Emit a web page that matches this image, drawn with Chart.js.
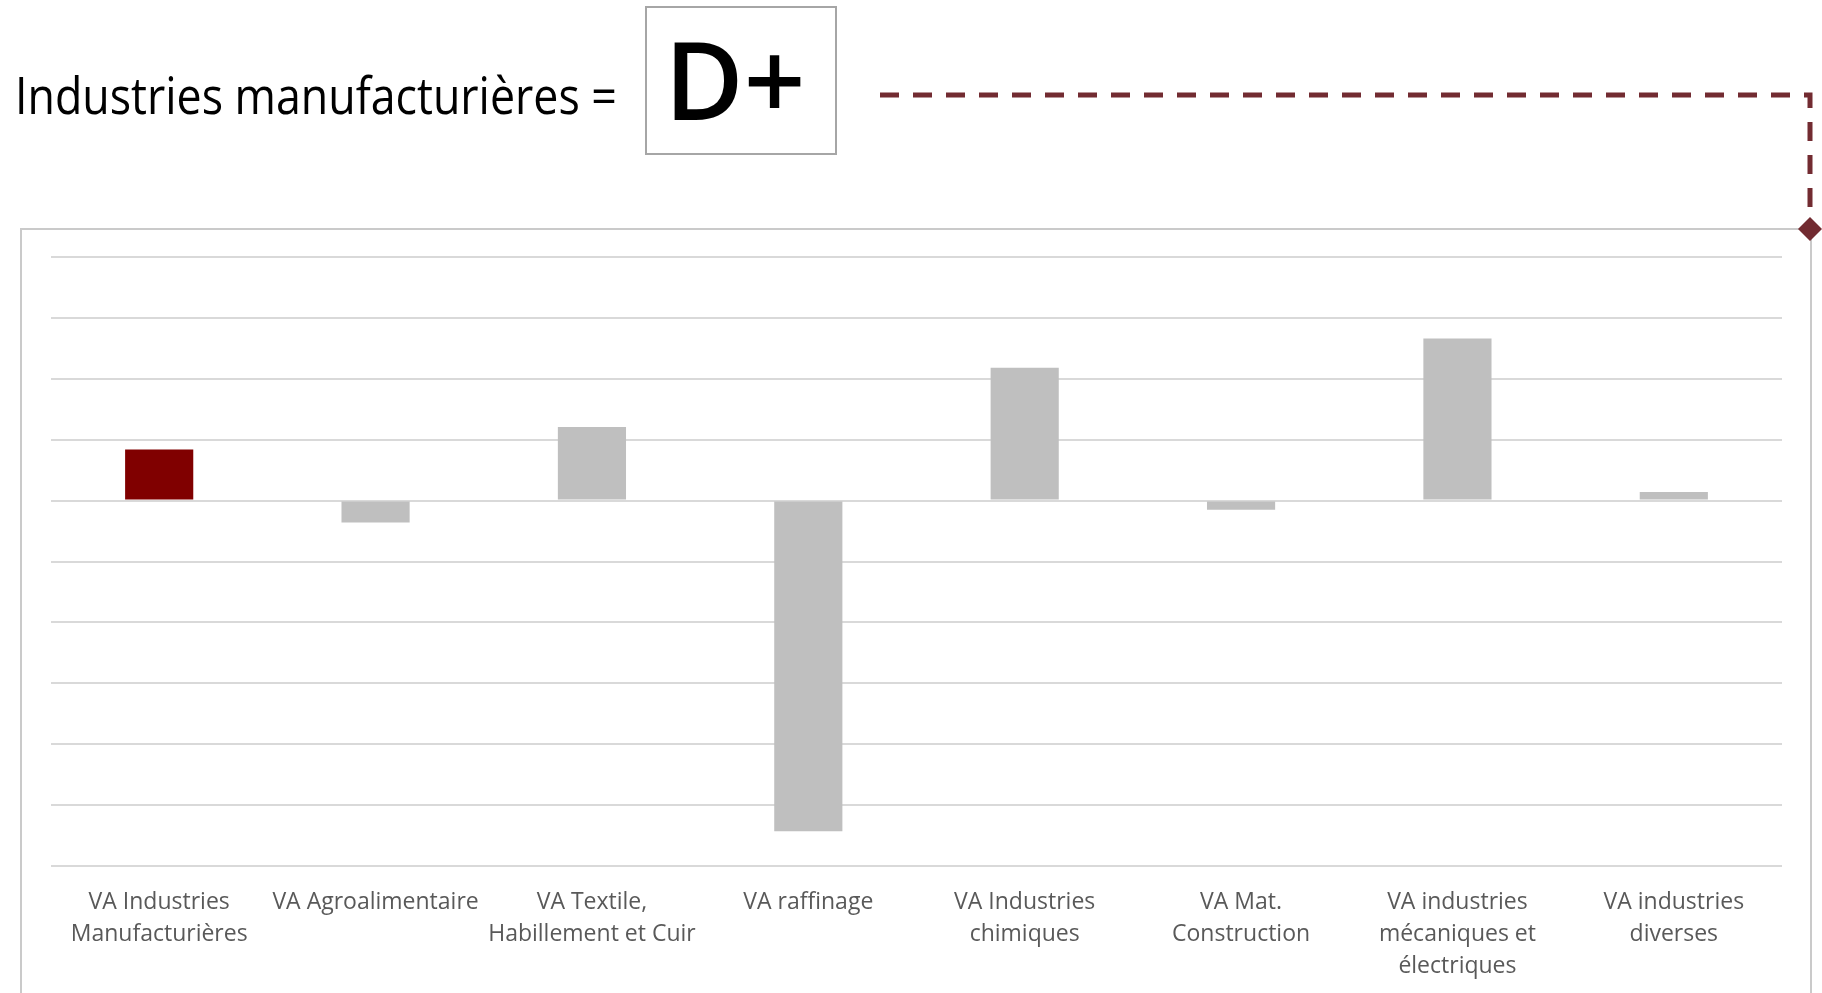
<!DOCTYPE html>
<html>
<head>
<meta charset="utf-8">
<script src="https://cdn.jsdelivr.net/npm/chart.js@4"></script>
<style>
  body { margin: 0; width: 1822px; height: 993px; overflow: hidden; background: #fff; position: relative; }
  #title { position: absolute; left: 15px; top: 68px; font: 52px/52px "Open Sans", sans-serif; color: #000; white-space: nowrap; transform: scaleX(0.86); transform-origin: 0 0; }
  #grade { position: absolute; left: 645px; top: 6px; width: 188px; height: 145px; border: 2px solid #a6a6a6; }
  #grade span { position: absolute; left: -12px; right: 0; top: 17px; text-align: center; font: 600 108px/108px "Open Sans", sans-serif; color: #000; }
  #frame { position: absolute; left: 20px; top: 228px; width: 1788px; height: 900px; border: 2px solid #cacaca; }
  #link { position: absolute; left: 0; top: 0; }
  #chart { position: absolute; left: 0; top: 0; }
</style>
</head>
<body>
<div id="title">Industries manufacturières =</div>
<div id="grade"><span>D+</span></div>
<div id="frame"></div>
<canvas id="chart" width="1822" height="993"></canvas>
<svg id="link" width="1822" height="993">
  <polyline points="880,95 1810,95 1810,222" fill="none" stroke="#722b31" stroke-width="5" stroke-dasharray="19 14"/>
  <polygon points="1810,217 1822,229 1810,241 1798,229" fill="#722b31"/>
</svg>
<script>
// secteurs (axe des x)
const categories = [
    ["VA Industries", "Manufacturières"],
    ["VA Agroalimentaire"],
    ["VA Textile,", "Habillement et Cuir"],
    ["VA raffinage"],
    ["VA Industries", "chimiques"],
    ["VA Mat.", "Construction"],
    ["VA industries", "mécaniques et", "électriques"],
    ["VA industries", "diverses"]
];

// contributions
const values = [0.84, -0.36, 1.21, -5.43, 2.18, -0.15, 2.66, 0.14];

const barColors = ["#800000", "#bfbfbf", "#bfbfbf", "#bfbfbf", "#bfbfbf", "#bfbfbf", "#bfbfbf", "#bfbfbf"];

const yMin = -6;
const yMax = 4;

const ctx = document.getElementById("chart").getContext("2d");

new Chart(ctx, {
    type: "bar",
    data: {
        labels: categories,
        datasets: [{
            data: values,
            backgroundColor: barColors,
            borderWidth: 0,
            categoryPercentage: 1,
            barPercentage: 0.315
        }]
    },
    options: {
        responsive: false,
        devicePixelRatio: 1,
        animation: false,
        layout: {
            padding: { left: 51, right: 40, top: 257, bottom: 0 }
        },
        plugins: {
            legend: { display: false },
            tooltip: { enabled: false }
        },
        scales: {
            x: {
                grid: { display: false },
                border: { display: false },
                ticks: {
                    color: "#595959",
                    font: { family: "'Open Sans', sans-serif", size: 23, lineHeight: 1.4 },
                    padding: 12,
                    maxRotation: 0,
                    autoSkip: false
                },
                afterFit: (scale) => { scale.height = 127; }
            },
            y: {
                min: yMin,
                max: yMax,
                ticks: { display: false, stepSize: 1 },
                grid: { color: "#d9d9d9", lineWidth: 2, drawTicks: false },
                border: { display: false },
                afterFit: (scale) => { scale.width = 0; }
            }
        }
    }
});
</script>
</body>
</html>
